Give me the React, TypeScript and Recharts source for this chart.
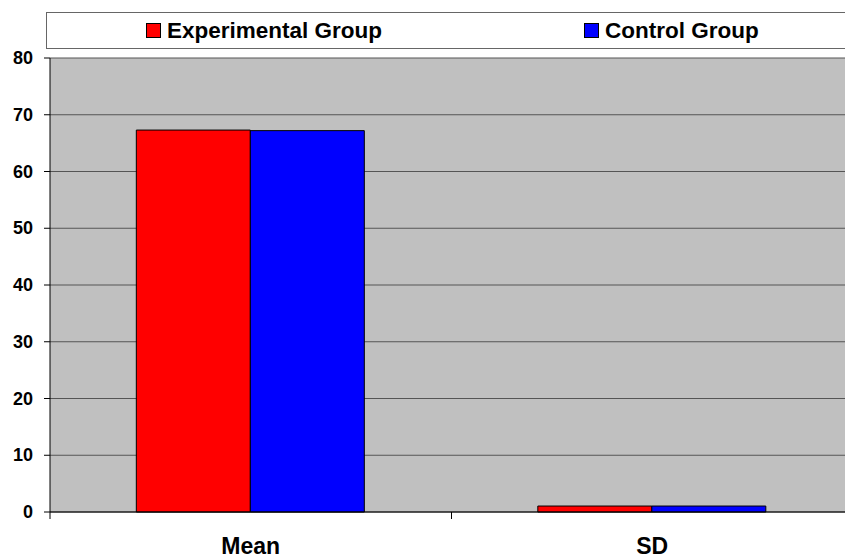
import React from "react"
import { Bar, BarChart, XAxis, YAxis, CartesianGrid } from "recharts"

const categories = ["Mean", "SD"]
const experimental = [67.3, 1.05]
const control = [67.2, 1.05]
const yTicks = [0, 10, 20, 30, 40, 50, 60, 70, 80]
const seriesNames = ["Experimental Group", "Control Group"]
const seriesColors = ["#FF0000", "#0000FF"]

const data = categories.map((c, i) => ({
    name: c,
    exp: experimental[i],
    ctl: control[i],
}))

const FONT = "'Liberation Sans', Arial, sans-serif"
const CHART_W = 870
const CHART_H = 560
const MARGIN = { top: 58, right: 17, bottom: 0, left: 0 }
const Y_W = 50
const BAND = (CHART_W - MARGIN.left - MARGIN.right - Y_W) / categories.length

const XTick = ({ x, y, payload }: any) => (
    <g>
        <line x1={x - BAND / 2} x2={x - BAND / 2} y1={y} y2={y + 7} stroke="#000" strokeWidth={1} />
        <text x={x} y={y + 42} textAnchor="middle" fontFamily={FONT} fontWeight="bold" fontSize={23} fill="#000">
            {payload.value}
        </text>
    </g>
)

const YTick = ({ x, y, payload }: any) => (
    <text x={x - 9} y={y + 6} textAnchor="end" fontFamily={FONT} fontWeight="bold" fontSize={18} fill="#000">
        {payload.value}
    </text>
)

export default function App() {
    return (
        <div style={{ position: "fixed", left: 0, top: 0, width: 845, height: 560, overflow: "hidden", background: "#fff" }}>
            <BarChart
                width={CHART_W}
                height={CHART_H}
                data={data}
                margin={MARGIN}
                barCategoryGap="21.5%"
                barGap={0}
            >
                <CartesianGrid vertical={false} stroke="#555" fill="#C0C0C0" />
                <XAxis
                    dataKey="name"
                    height={48}
                    tickLine={false}
                    tickSize={0}
                    tickMargin={0}
                    axisLine={{ stroke: "#000" }}
                    tick={<XTick />}
                    interval={0}
                />
                <YAxis
                    width={Y_W}
                    domain={[0, 80]}
                    ticks={yTicks}
                    interval={0}
                    tickSize={6}
                    tickLine={{ stroke: "#000" }}
                    axisLine={{ stroke: "#000" }}
                    tick={<YTick />}
                />
                <Bar dataKey="exp" name={seriesNames[0]} fill={seriesColors[0]} stroke="#000" strokeWidth={1} isAnimationActive={false} />
                <Bar dataKey="ctl" name={seriesNames[1]} fill={seriesColors[1]} stroke="#000" strokeWidth={1} isAnimationActive={false} />
            </BarChart>
            <div
                style={{
                    position: "absolute",
                    left: 46,
                    top: 12,
                    width: 820,
                    height: 37,
                    border: "1px solid #666",
                    background: "#fff",
                    fontFamily: FONT,
                    fontWeight: "bold",
                    fontSize: 22.5,
                    boxSizing: "border-box",
                }}
            >
                {seriesNames.map((n, i) => (
                    <div
                        key={n}
                        style={{
                            position: "absolute",
                            left: i === 0 ? 99 : 537,
                            top: 0,
                            height: 35,
                            display: "flex",
                            alignItems: "center",
                            whiteSpace: "nowrap",
                        }}
                    >
                        <span
                            style={{
                                display: "inline-block",
                                width: 15,
                                height: 15,
                                background: seriesColors[i],
                                border: "1px solid #000",
                                boxSizing: "border-box",
                                marginRight: 6,
                            }}
                        />
                        {n}
                    </div>
                ))}
            </div>
        </div>
    )
}
